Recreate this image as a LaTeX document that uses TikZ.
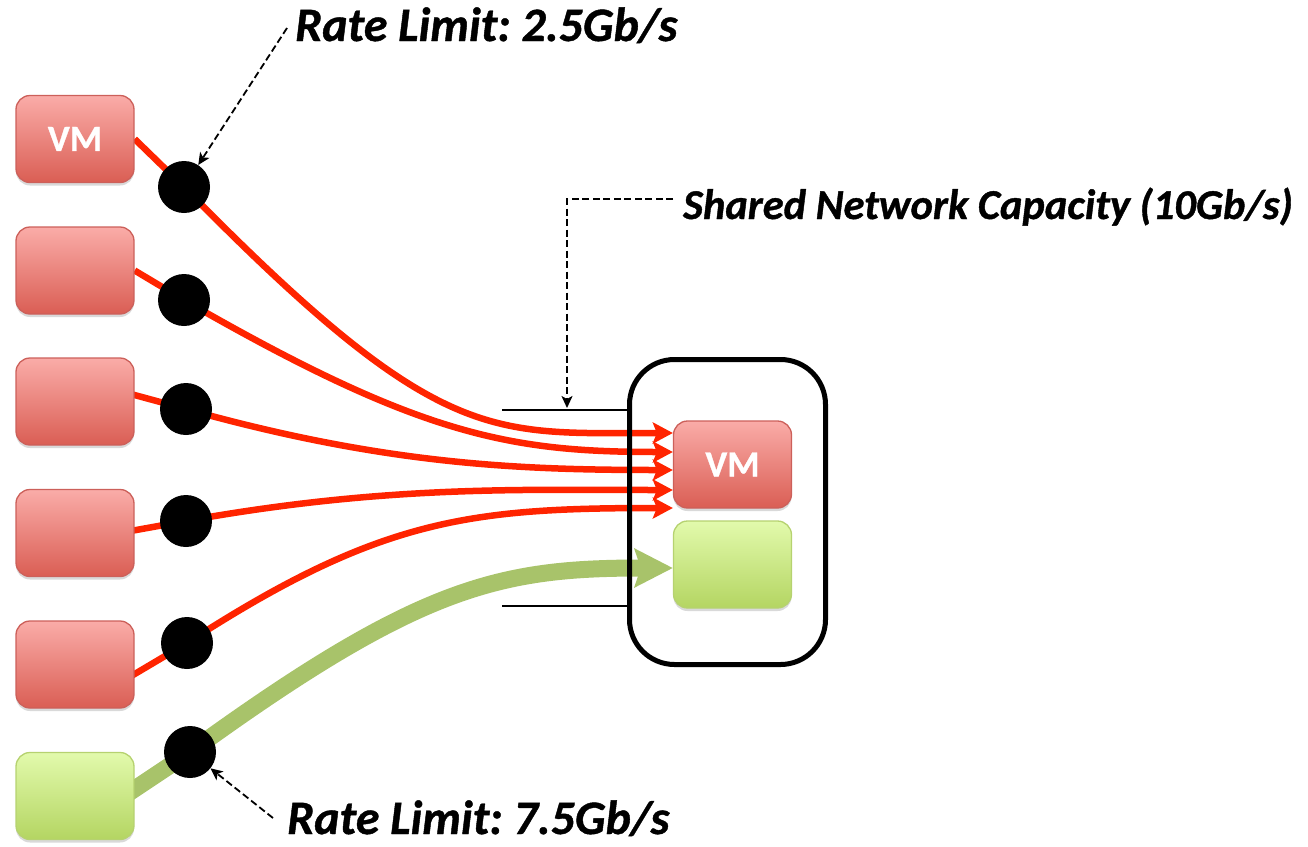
\documentclass[tikz,border=0pt]{standalone}
\usepackage{fontspec}
\setmainfont{Carlito}
\newfontfamily\calloutfont{Carlito}[BoldItalicFeatures={FakeBold=0.9}]
\newfontfamily\boxfont{Carlito}[BoldFeatures={FakeBold=0.8}]
\frenchspacing
\usetikzlibrary{arrows.meta,shadows,calc,backgrounds}

\definecolor{vmtop}{RGB}{250,172,168}
\definecolor{vmbot}{RGB}{218,94,84}
\definecolor{vmedge}{RGB}{204,96,90}
\definecolor{gtop}{RGB}{226,250,172}
\definecolor{gbot}{RGB}{180,213,98}
\definecolor{gedge}{RGB}{182,210,112}
\definecolor{flowred}{RGB}{255,36,0}
\definecolor{flowgreen}{RGB}{168,195,106}

\tikzset{
  boxbase/.style={rectangle, rounded corners=14pt, minimum width=118pt,
    minimum height=87pt, inner sep=0pt, line width=1.3pt,
    drop shadow={shadow xshift=0pt, shadow yshift=-3pt, fill=black, opacity=0.15},
    text=white, font=\boxfont\bfseries\fontsize{37}{37}\selectfont},
  vmbox/.style={boxbase, draw=vmedge, top color=vmtop, bottom color=vmbot},
  gbox/.style={boxbase, draw=gedge, top color=gtop, bottom color=gbot},
  limiter/.style={circle, fill=black, minimum size=52pt, inner sep=0pt},
  redflow/.style={draw=flowred, line width=6.5pt,
    -{Stealth[length=20pt, width=21pt, inset=4pt]}},
  greenflow/.style={draw=flowgreen, line width=17pt,
    -{Stealth[length=38pt, width=38pt, inset=6pt]}},
  callout/.style={black, line width=1.8pt, dash pattern=on 7pt off 3.5pt,
    -{Stealth[length=12pt, width=11pt, inset=3pt]}},
  caption/.style={inner sep=0pt, font=\calloutfont\bfseries\itshape\fontsize{48}{48}\selectfont},
  smallcaption/.style={caption, font=\calloutfont\bfseries\itshape\fontsize{42.5}{42.5}\selectfont},
  capline/.style={black, line width=2.2pt},
}

\begin{document}
\begin{tikzpicture}[x=1pt, y=-1pt]
\useasboundingbox (0,0) rectangle (1308,846);

% host that receives all flows
\node[draw=black, line width=5pt, rounded corners=45pt, minimum width=196pt,
      minimum height=305pt, inner sep=0pt] (host) at (727.5,512) {};

% edges of the shared link
\coordinate (capA) at (502,410);
\coordinate (capB) at (502,606);
\coordinate (capMark) at (567,408);
\draw[capline] (capA) -- (capA -| host.west);
\draw[capline] (capB) -- (capB -| host.west);

% sending machines on the left
\node[vmbox] (vm1) at (75,139) {VM};
\node[vmbox] (vm2) at (75,270.5) {};
\node[vmbox] (vm3) at (75,401.5) {};
\node[vmbox] (vm4) at (75,533) {};
\node[vmbox] (vm5) at (75,664.5) {};
\node[gbox]  (vm6) at (75,796) {};

% receiving machines inside the host
\node[vmbox] (rvm) at (732.5,464.5) {VM};
\node[gbox]  (rgr) at (732.5,564.5) {};

% rate limiters
\node[limiter] (d1) at (184,187) {};
\node[limiter] (d2) at (184,300) {};
\node[limiter] (d3) at (186,409) {};
\node[limiter] (d4) at (186,521) {};
\node[limiter] (d5) at (187,643) {};
\node[limiter] (d6) at (190,752) {};

% flows, passing through the limiters, under everything else
\begin{scope}[on background layer]
  \draw[redflow] (vm1.east) -- (d1.center)
    .. controls (440,448) and (490,433) .. ([yshift=31.5pt]rvm.west);
  \draw[redflow] (vm2.east) -- (d2.center)
    .. controls (420,436) and (510,452) .. ([yshift=12.5pt]rvm.west);
  \draw[redflow] ([xshift=-2pt,yshift=7pt]vm3.east) -- (d3.center)
    .. controls (386,465) and (520,470) .. ([yshift=-5.5pt]rvm.west);
  \draw[redflow] ([xshift=-4pt,yshift=2pt]vm4.east) -- (d4.center)
    .. controls (386,485) and (520,490) .. ([yshift=-25.5pt]rvm.west);
  \draw[redflow] ([xshift=-5pt,yshift=-12.5pt]vm5.east) -- (d5.center)
    .. controls (380,518) and (470,508) .. ([yshift=-43.5pt]rvm.west);
  \draw[greenflow] ([xshift=-6pt,yshift=3pt]vm6.east) -- (d6.center)
    .. controls (420,585) and (500,568) .. ([yshift=-3.5pt]rgr.west);
\end{scope}

% captions
\node[caption, anchor=base west] (rl1) at (295,41) {Rate Limit: 2.5Gb/s};
\node[smallcaption, anchor=base west] (cap) at (683,219) {Shared Network Capacity (10Gb/s)};
\node[caption, anchor=base west] (rl2) at (287,834) {Rate Limit: 7.5Gb/s};

\draw[callout] ([xshift=-8pt,yshift=13pt]rl1.base west) -- (d1);
\draw[callout] ([xshift=-10pt,yshift=20pt]cap.base west) -| (capMark);
\draw[callout] ([xshift=-14pt,yshift=16pt]rl2.base west) -- (d6);
\end{tikzpicture}
\end{document}
